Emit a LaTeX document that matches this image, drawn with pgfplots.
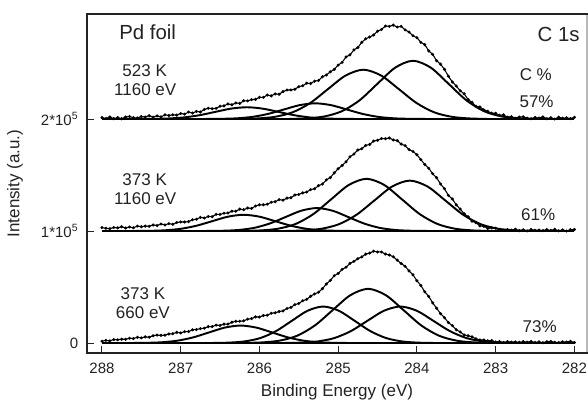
\documentclass[border=0pt]{standalone}
\usepackage{pgfplots}
\pgfplotsset{compat=1.18}
\usepackage{pgfplotstable}
\usepackage{fontspec}
\setmainfont{Liberation Sans}
\definecolor{txt}{HTML}{222222}

\pgfplotstableread{
x y
288.00 2.013
287.95 2.004
287.90 2.018
287.85 2.003
287.80 2.013
287.75 2.002
287.70 2.018
287.65 2.022
287.60 2.012
287.55 2.009
287.50 2.022
287.45 2.018
287.40 2.030
287.35 2.017
287.30 2.028
287.25 2.019
287.20 2.037
287.15 2.031
287.10 2.037
287.05 2.035
287.00 2.049
286.95 2.044
286.90 2.062
286.85 2.053
286.80 2.068
286.75 2.063
286.70 2.085
286.65 2.096
286.60 2.092
286.55 2.095
286.50 2.114
286.45 2.117
286.40 2.135
286.35 2.127
286.30 2.143
286.25 2.139
286.20 2.163
286.15 2.162
286.10 2.173
286.05 2.175
286.00 2.194
285.95 2.193
285.90 2.214
285.85 2.207
285.80 2.224
285.75 2.221
285.70 2.245
285.65 2.259
285.60 2.259
285.55 2.266
285.50 2.289
285.45 2.297
285.40 2.320
285.35 2.317
285.30 2.338
285.25 2.344
285.20 2.377
285.15 2.393
285.10 2.421
285.05 2.443
285.00 2.481
284.95 2.506
284.90 2.554
284.85 2.573
284.80 2.617
284.75 2.638
284.70 2.685
284.65 2.716
284.60 2.732
284.55 2.750
284.50 2.784
284.45 2.799
284.40 2.830
284.35 2.827
284.30 2.838
284.25 2.821
284.20 2.827
284.15 2.796
284.10 2.776
284.05 2.743
284.00 2.726
283.95 2.684
283.90 2.664
283.85 2.608
283.80 2.577
283.75 2.520
283.70 2.490
283.65 2.443
283.60 2.382
283.55 2.330
283.50 2.294
283.45 2.252
283.40 2.225
283.35 2.174
283.30 2.148
283.25 2.114
283.20 2.107
283.15 2.082
283.10 2.069
283.05 2.052
283.00 2.051
282.95 2.033
282.90 2.037
282.85 2.016
282.80 2.020
282.75 2.006
282.70 2.018
282.65 2.020
282.60 2.008
282.55 2.003
282.50 2.014
282.45 2.008
282.40 2.019
282.35 2.003
282.30 2.012
282.25 2.000
282.20 2.016
282.15 2.007
282.10 2.010
282.05 2.004
282.00 2.015
}\envtop

\pgfplotstableread{
x y
288.00 1.031
287.95 1.024
287.90 1.021
287.85 1.031
287.80 1.028
287.75 1.038
287.70 1.027
287.65 1.036
287.60 1.029
287.55 1.044
287.50 1.038
287.45 1.044
287.40 1.042
287.35 1.054
287.30 1.049
287.25 1.063
287.20 1.054
287.15 1.066
287.10 1.060
287.05 1.076
287.00 1.081
286.95 1.080
286.90 1.084
286.85 1.101
286.80 1.105
286.75 1.122
286.70 1.116
286.65 1.130
286.60 1.128
286.55 1.149
286.50 1.148
286.45 1.159
286.40 1.161
286.35 1.177
286.30 1.177
286.25 1.195
286.20 1.190
286.15 1.205
286.10 1.202
286.05 1.223
286.00 1.234
285.95 1.234
285.90 1.239
285.85 1.257
285.80 1.262
285.75 1.280
285.70 1.275
285.65 1.294
285.60 1.297
285.55 1.322
285.50 1.326
285.45 1.341
285.40 1.348
285.35 1.370
285.30 1.377
285.25 1.405
285.20 1.419
285.15 1.457
285.10 1.477
285.05 1.519
285.00 1.556
284.95 1.585
284.90 1.618
284.85 1.663
284.80 1.687
284.75 1.723
284.70 1.735
284.65 1.764
284.60 1.773
284.55 1.803
284.50 1.810
284.45 1.826
284.40 1.824
284.35 1.830
284.30 1.813
284.25 1.807
284.20 1.776
284.15 1.762
284.10 1.727
284.05 1.710
284.00 1.681
283.95 1.638
283.90 1.594
283.85 1.560
283.80 1.512
283.75 1.476
283.70 1.420
283.65 1.377
283.60 1.318
283.55 1.286
283.50 1.233
283.45 1.196
283.40 1.154
283.35 1.127
283.30 1.087
283.25 1.075
283.20 1.046
283.15 1.042
283.10 1.023
283.05 1.028
283.00 1.025
282.95 1.013
282.90 1.006
282.85 1.013
282.80 1.008
282.75 1.016
282.70 1.003
282.65 1.010
282.60 1.001
282.55 1.014
282.50 1.006
282.45 1.009
282.40 1.004
282.35 1.013
282.30 1.005
282.25 1.015
282.20 1.002
282.15 1.010
282.10 1.000
282.05 1.012
282.00 1.014
}\envmid

\pgfplotstableread{
x y
288.00 0.016
287.95 0.024
287.90 0.019
287.85 0.031
287.80 0.029
287.75 0.034
287.70 0.033
287.65 0.043
287.60 0.040
287.55 0.051
287.50 0.046
287.45 0.055
287.40 0.052
287.35 0.065
287.30 0.071
287.25 0.068
287.20 0.070
287.15 0.081
287.10 0.083
287.05 0.095
287.00 0.090
286.95 0.102
286.90 0.102
286.85 0.118
286.80 0.120
286.75 0.129
286.70 0.132
286.65 0.146
286.60 0.147
286.55 0.160
286.50 0.157
286.45 0.169
286.40 0.169
286.35 0.185
286.30 0.194
286.25 0.194
286.20 0.198
286.15 0.213
286.10 0.218
286.05 0.233
286.00 0.232
285.95 0.246
285.90 0.248
285.85 0.266
285.80 0.270
285.75 0.281
285.70 0.287
285.65 0.308
285.60 0.318
285.55 0.343
285.50 0.353
285.45 0.377
285.40 0.390
285.35 0.418
285.30 0.438
285.25 0.453
285.20 0.485
285.15 0.527
285.10 0.559
285.05 0.601
285.00 0.621
284.95 0.657
284.90 0.677
284.85 0.711
284.80 0.729
284.75 0.753
284.70 0.769
284.65 0.794
284.60 0.803
284.55 0.820
284.50 0.813
284.45 0.813
284.40 0.794
284.35 0.786
284.30 0.770
284.25 0.740
284.20 0.710
284.15 0.685
284.10 0.644
284.05 0.609
284.00 0.556
283.95 0.514
283.90 0.457
283.85 0.416
283.80 0.359
283.75 0.311
283.70 0.262
283.65 0.226
283.60 0.183
283.55 0.155
283.50 0.118
283.45 0.099
283.40 0.072
283.35 0.065
283.30 0.055
283.25 0.038
283.20 0.027
283.15 0.027
283.10 0.019
283.05 0.022
283.00 0.009
282.95 0.013
282.90 0.005
282.85 0.013
282.80 0.008
282.75 0.010
282.70 0.006
282.65 0.013
282.60 0.007
282.55 0.014
282.50 0.005
282.45 0.010
282.40 0.003
282.35 0.012
282.30 0.014
282.25 0.007
282.20 0.004
282.15 0.011
282.10 0.008
282.05 0.015
282.00 0.005
}\envbot

\begin{document}
\begin{tikzpicture}
\begin{axis}[
  name=ax,
  scale only axis,
  width=375pt, height=254.25pt,
  x dir=reverse,
  xmin=281.84, xmax=288.19,
  ymin=-0.089, ymax=2.9375,
  xtick={282,283,284,285,286,287,288},
  ytick={0,1,2},
  yticklabels={0,1*10\textsuperscript{5},2*10\textsuperscript{5}},
  /pgf/number format/assume math mode=true,
  tick align=inside,
  xtick pos=lower, ytick pos=left,
  major tick length=5pt,
  tick style={txt, line width=0.7pt},
  axis line style={txt, line width=1.4pt},
  tick label style={font=\fontsize{11.25}{13}\selectfont, text=txt},
  xticklabel style={yshift=-4pt},
  yticklabel style={xshift=-3pt},
  xlabel={Binding Energy (eV)},
  ylabel={Intensity (a.u.)},
  label style={font=\fontsize{12.75}{15}\selectfont, text=txt},
  xlabel style={at={(rel axis cs:0.5,0)}, anchor=center, yshift=-29.25pt},
  ylabel style={at={(rel axis cs:0,0.5)}, anchor=center, yshift=54pt},
  clip=false,
]
% baselines
\addplot[black, line width=1.7pt] coordinates {(282,0) (288,0)};
\addplot[black, line width=1.7pt] coordinates {(282,1) (288,1)};
\addplot[black, line width=1.7pt] coordinates {(282,2) (288,2)};

% top components
\addplot[black, line width=1.45pt, smooth] coordinates {(284.76,2.0002) (284.96,2.0012) (285.16,2.0046) (285.36,2.0142) (285.56,2.0341) (285.76,2.0637) (285.96,2.0927) (286.16,2.105) (286.36,2.0927) (286.56,2.0637) (286.76,2.0341) (286.96,2.0142) (287.16,2.0046) (287.36,2.0012) (287.56,2.0002)};
\addplot[black, line width=1.45pt, smooth] coordinates {(283.89,2.0003) (284.09,2.0016) (284.29,2.0061) (284.49,2.0189) (284.69,2.0455) (284.89,2.0849) (285.09,2.1236) (285.29,2.14) (285.49,2.1236) (285.69,2.0849) (285.89,2.0455) (286.09,2.0189) (286.29,2.0061) (286.49,2.0016) (286.69,2.0003)};
\addplot[black, line width=1.45pt, smooth] coordinates {(283.105,2.001) (283.33,2.0049) (283.555,2.0193) (283.78,2.0595) (284.005,2.1429) (284.23,2.2669) (284.455,2.3883) (284.68,2.44) (284.905,2.3883) (285.13,2.2669) (285.355,2.1429) (285.58,2.0595) (285.805,2.0193) (286.03,2.0049) (286.255,2.001)};
\addplot[black, line width=1.45pt, smooth] coordinates {(282.475,2.0011) (282.70,2.0058) (282.925,2.0228) (283.15,2.0704) (283.375,2.1688) (283.60,2.3154) (283.825,2.4589) (284.05,2.52) (284.275,2.4589) (284.50,2.3154) (284.725,2.1688) (284.95,2.0704) (285.175,2.0228) (285.40,2.0058) (285.625,2.0011)};

% middle components
\addplot[black, line width=1.45pt, smooth] coordinates {(284.8,1.0003) (285.0,1.0016) (285.2,1.0064) (285.4,1.0196) (285.6,1.0471) (285.8,1.0879) (286.0,1.128) (286.2,1.145) (286.4,1.128) (286.6,1.0879) (286.8,1.0471) (287.0,1.0196) (287.2,1.0064) (287.4,1.0016) (287.6,1.0003)};
\addplot[black, line width=1.45pt, smooth] coordinates {(283.87,1.0005) (284.07,1.0023) (284.27,1.009) (284.47,1.0277) (284.67,1.0666) (284.87,1.1243) (285.07,1.1809) (285.27,1.205) (285.47,1.1809) (285.67,1.1243) (285.87,1.0666) (286.07,1.0277) (286.27,1.009) (286.47,1.0023) (286.67,1.0005)};
\addplot[black, line width=1.45pt, smooth] coordinates {(283.065,1.001) (283.29,1.0052) (283.515,1.0205) (283.74,1.0631) (283.965,1.1513) (284.19,1.2826) (284.415,1.4112) (284.64,1.466) (284.865,1.4112) (285.09,1.2826) (285.315,1.1513) (285.54,1.0631) (285.765,1.0205) (285.99,1.0052) (286.215,1.001)};
\addplot[black, line width=1.45pt, smooth] coordinates {(282.515,1.001) (282.74,1.005) (282.965,1.0198) (283.19,1.0609) (283.415,1.1461) (283.64,1.2729) (283.865,1.3971) (284.09,1.45) (284.315,1.3971) (284.54,1.2729) (284.765,1.1461) (284.99,1.0609) (285.215,1.0198) (285.44,1.005) (285.665,1.001)};

% bottom components
\addplot[black, line width=1.45pt, smooth] coordinates {(284.84,0.0003) (285.04,0.0017) (285.24,0.0068) (285.44,0.0211) (285.64,0.0507) (285.84,0.0946) (286.04,0.1377) (286.24,0.156) (286.44,0.1377) (286.64,0.0946) (286.84,0.0507) (287.04,0.0211) (287.24,0.0068) (287.44,0.0017) (287.64,0.0003)};
\addplot[black, line width=1.45pt, smooth] coordinates {(283.79,0.0007) (283.99,0.0036) (284.19,0.0143) (284.39,0.0441) (284.59,0.1059) (284.79,0.1977) (284.99,0.2877) (285.19,0.326) (285.39,0.2877) (285.59,0.1977) (285.79,0.1059) (285.99,0.0441) (286.19,0.0143) (286.39,0.0036) (286.59,0.0007)};
\addplot[black, line width=1.45pt, smooth] coordinates {(283.045,0.0011) (283.27,0.0054) (283.495,0.0212) (283.72,0.0655) (283.945,0.1572) (284.17,0.2935) (284.395,0.4271) (284.62,0.484) (284.845,0.4271) (285.07,0.2935) (285.295,0.1572) (285.52,0.0655) (285.745,0.0212) (285.97,0.0054) (286.195,0.0011)};
\addplot[black, line width=1.45pt, smooth] coordinates {(282.74,0.0007) (282.95,0.0036) (283.16,0.0143) (283.37,0.0441) (283.58,0.1059) (283.79,0.1977) (284.00,0.2877) (284.21,0.326) (284.42,0.2877) (284.63,0.1977) (284.84,0.1059) (285.05,0.0441) (285.26,0.0143) (285.47,0.0036) (285.68,0.0007)};

% measured envelopes
\addplot[black, line width=0.8pt, mark=*, mark size=0.7pt] table[x=x,y=y] {\envtop};
\addplot[black, line width=0.8pt, mark=*, mark size=0.7pt] table[x=x,y=y] {\envmid};
\addplot[black, line width=0.8pt, mark=*, mark size=0.7pt] table[x=x,y=y] {\envbot};

% labels
\begin{scope}[every node/.style={text=txt, font=\fontsize{12.75}{15}\selectfont, align=center}]
\node at (axis cs:287.42,2.777) {\fontsize{15.3}{18}\selectfont Pd foil};
\node at (axis cs:282.20,2.759) {\fontsize{15.3}{18}\selectfont C 1s};
\node at (axis cs:287.457,2.429) {523 K};
\node at (axis cs:287.45,2.259) {1160 eV};
\node at (axis cs:282.49,2.393) {C \%};
\node at (axis cs:282.48,2.152) {57\%};
\node at (axis cs:287.457,1.455) {373 K};
\node at (axis cs:287.45,1.286) {1160 eV};
\node at (axis cs:282.46,1.143) {61\%};
\node at (axis cs:287.48,0.4375) {373 K};
\node at (axis cs:287.48,0.268) {660 eV};
\node at (axis cs:282.44,0.143) {73\%};
\end{scope}
\draw[gray!55, line width=1.4pt] (rel axis cs:1,0.004) -- (rel axis cs:1,0.996);
\end{axis}
\pgfresetboundingbox
\path[use as bounding box] ([shift={(-65.25pt,-36pt)}]ax.south west) rectangle ([shift={(0.75pt,10.5pt)}]ax.north east);
\end{tikzpicture}
\end{document}
